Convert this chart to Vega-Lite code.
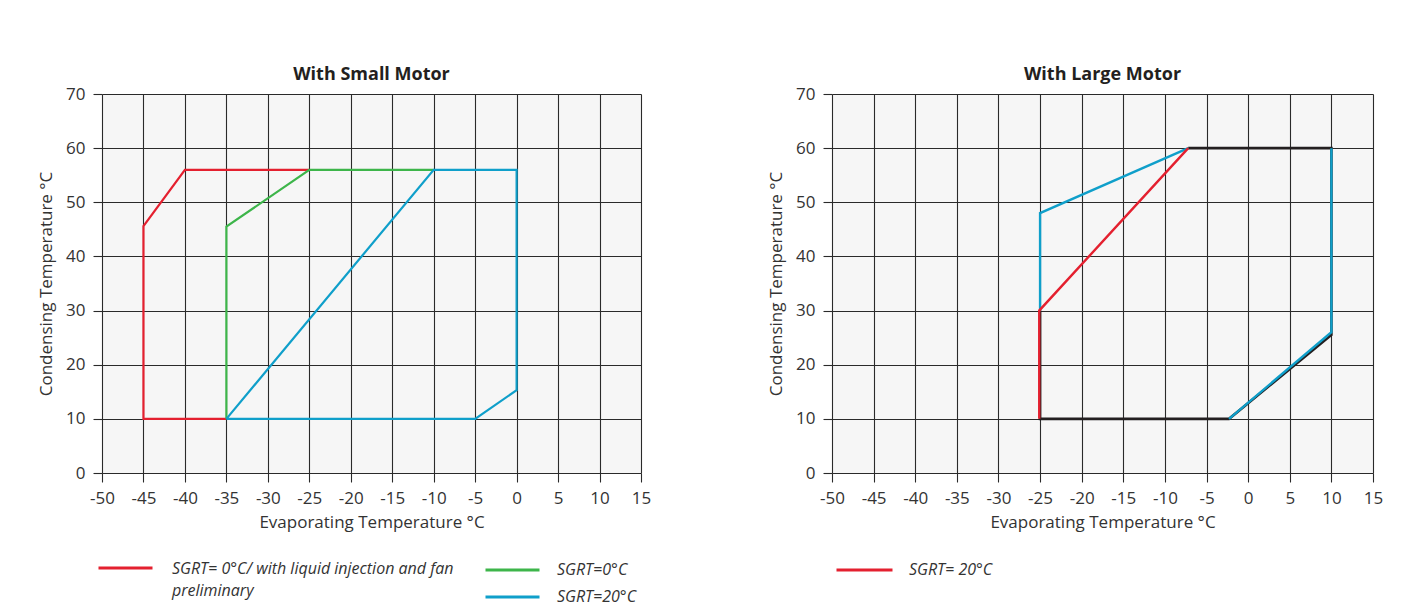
{
  "$schema": "https://vega.github.io/schema/vega-lite/v6.json",
  "background": "white",
  "padding": {"left": 37, "top": 66, "right": 10, "bottom": 4},
  "spacing": 116,
  "datasets": {
    "small": [
      {"group": "red", "series": "SGRT= 0°C/ with liquid injection and fan preliminary", "i": 1, "x": -35, "y": 10},
      {"group": "red", "series": "SGRT= 0°C/ with liquid injection and fan preliminary", "i": 2, "x": -45, "y": 10},
      {"group": "red", "series": "SGRT= 0°C/ with liquid injection and fan preliminary", "i": 3, "x": -45, "y": 45.6},
      {"group": "red", "series": "SGRT= 0°C/ with liquid injection and fan preliminary", "i": 4, "x": -40, "y": 56},
      {"group": "red", "series": "SGRT= 0°C/ with liquid injection and fan preliminary", "i": 5, "x": -25, "y": 56},
      {"group": "gb", "series": "SGRT=0°C", "i": 1, "x": -35, "y": 10},
      {"group": "gb", "series": "SGRT=0°C", "i": 2, "x": -35, "y": 45.5},
      {"group": "gb", "series": "SGRT=0°C", "i": 3, "x": -25, "y": 56},
      {"group": "gb", "series": "SGRT=0°C", "i": 4, "x": -10, "y": 56},
      {"group": "gb", "series": "SGRT=20°C", "i": 1, "x": -35, "y": 10},
      {"group": "gb", "series": "SGRT=20°C", "i": 2, "x": -10, "y": 56},
      {"group": "gb", "series": "SGRT=20°C", "i": 3, "x": 0, "y": 56},
      {"group": "gb", "series": "SGRT=20°C", "i": 4, "x": 0, "y": 15.3},
      {"group": "gb", "series": "SGRT=20°C", "i": 5, "x": -5, "y": 10},
      {"group": "gb", "series": "SGRT=20°C", "i": 6, "x": -35, "y": 10}
    ],
    "large": [
      {"group": "black", "seg": "k", "i": 1, "x": -25, "y": 30},
      {"group": "black", "seg": "k", "i": 2, "x": -25, "y": 10},
      {"group": "black", "seg": "k", "i": 3, "x": -2.3, "y": 10},
      {"group": "black", "seg": "k", "i": 4, "x": 10, "y": 25.5},
      {"group": "black", "seg": "k", "i": 5, "x": 10, "y": 60},
      {"group": "black", "seg": "k", "i": 6, "x": -7.2, "y": 60},
      {"group": "blue", "seg": "a", "i": 1, "x": -25, "y": 30},
      {"group": "blue", "seg": "a", "i": 2, "x": -25, "y": 48},
      {"group": "blue", "seg": "a", "i": 3, "x": -7.2, "y": 60},
      {"group": "blue", "seg": "b", "i": 1, "x": 10, "y": 60},
      {"group": "blue", "seg": "b", "i": 2, "x": 10, "y": 26},
      {"group": "blue", "seg": "b", "i": 3, "x": -2.3, "y": 10},
      {"group": "red", "series": "SGRT= 20°C", "seg": "r", "i": 1, "x": -25.1, "y": 10},
      {"group": "red", "series": "SGRT= 20°C", "seg": "r", "i": 2, "x": -25.1, "y": 30},
      {"group": "red", "series": "SGRT= 20°C", "seg": "r", "i": 3, "x": -7.2, "y": 60}
    ]
  },
  "hconcat": [
    {
      "title": {"text": "With Small Motor"},
      "width": 539,
      "height": 379,
      "encoding": {
        "x": {"field": "x", "type": "quantitative", "scale": {"domain": [-50, 15], "nice": false, "zero": false},
              "axis": {"values": [-50, -45, -40, -35, -30, -25, -20, -15, -10, -5, 0, 5, 10, 15], "labelExpr": "toString(datum.value)", "title": "Evaporating Temperature °C"}},
        "y": {"field": "y", "type": "quantitative", "scale": {"domain": [0, 70], "nice": false},
              "axis": {"values": [0, 10, 20, 30, 40, 50, 60, 70], "title": "Condensing Temperature °C"}},
        "order": {"field": "i", "type": "quantitative"}
      },
      "layer": [
        {
          "data": {"name": "small"},
          "transform": [{"filter": "datum.group == 'red'"}],
          "mark": {"type": "line", "strokeWidth": 2.2},
          "encoding": {
            "color": {"field": "series", "type": "nominal",
              "scale": {"domain": ["SGRT= 0°C/ with liquid injection and fan preliminary"], "range": ["#e4202f"]},
              "legend": {"title": null, "orient": "none", "legendX": -5, "legendY": 466, "symbolType": "stroke", "symbolSize": 2916, "symbolStrokeWidth": 3, "clipHeight": 16, "labelOffset": 18, "padding": 0,
                "labelExpr": "[slice(datum.label, 0, 41), 'preliminary']",
                "encode": {"labels": {"update": {"lineHeight": {"value": 22}, "dy": {"value": 0.5}}}}}}
          }
        },
        {
          "data": {"name": "small"},
          "transform": [{"filter": "datum.group == 'gb'"}],
          "mark": {"type": "line", "strokeWidth": 2.2},
          "encoding": {
            "color": {"field": "series", "type": "nominal",
              "scale": {"domain": ["SGRT=0°C", "SGRT=20°C"], "range": ["#3db54a", "#0f9fca"]},
              "legend": {"title": null, "orient": "none", "legendX": 382, "legendY": 468, "symbolType": "stroke", "symbolSize": 2916, "symbolStrokeWidth": 3, "clipHeight": 16, "labelOffset": 16, "rowPadding": 11, "padding": 0}}
          }
        }
      ],
      "resolve": {"scale": {"color": "independent"}, "legend": {"color": "independent"}}
    },
    {
      "title": {"text": "With Large Motor"},
      "width": 541,
      "height": 379,
      "data": {"name": "large"},
      "encoding": {
        "x": {"field": "x", "type": "quantitative", "scale": {"domain": [-50, 15], "nice": false, "zero": false},
              "axis": {"values": [-50, -45, -40, -35, -30, -25, -20, -15, -10, -5, 0, 5, 10, 15], "labelExpr": "toString(datum.value)", "title": "Evaporating Temperature °C"}},
        "y": {"field": "y", "type": "quantitative", "scale": {"domain": [0, 70], "nice": false},
              "axis": {"values": [0, 10, 20, 30, 40, 50, 60, 70], "title": "Condensing Temperature °C"}},
        "order": {"field": "i", "type": "quantitative"}
      },
      "layer": [
        {
          "transform": [{"filter": "datum.group == 'black'"}],
          "mark": {"type": "line", "strokeWidth": 2.6, "color": "#231f20"},
          "encoding": {"detail": {"field": "seg", "type": "nominal"}}
        },
        {
          "transform": [{"filter": "datum.group == 'blue'"}],
          "mark": {"type": "line", "strokeWidth": 2.4, "color": "#0f9fca"},
          "encoding": {"detail": {"field": "seg", "type": "nominal"}}
        },
        {
          "transform": [{"filter": "datum.group == 'red'"}],
          "mark": {"type": "line", "strokeWidth": 2.4},
          "encoding": {
            "color": {"field": "series", "type": "nominal",
              "scale": {"domain": ["SGRT= 20°C"], "range": ["#e4202f"]},
              "legend": {"title": null, "orient": "none", "legendX": 3, "legendY": 468, "symbolType": "stroke", "symbolSize": 3136, "symbolStrokeWidth": 3, "clipHeight": 16, "labelOffset": 15, "padding": 0}}
          }
        }
      ]
    }
  ],
  "resolve": {"scale": {"color": "independent"}, "legend": {"color": "independent"}},
  "config": {
    "font": "Open Sans",
    "view": {"stroke": null, "fill": "#f6f6f6"},
    "axis": {
      "domain": false,
      "grid": true,
      "gridColor": "#2a2a2a",
      "gridOpacity": 1,
      "gridWidth": 1.1,
      "tickColor": "#2a2a2a",
      "tickSize": 9,
      "tickWidth": 1.1,
      "labelFlush": false,
      "labelFontSize": 17,
      "labelColor": "#333333",
      "labelPadding": 8,
      "titleFontSize": 17,
      "titleFontWeight": "normal",
      "titleColor": "#333333"
    },
    "axisY": {"titlePadding": 10},
    "axisX": {"titlePadding": 8},
    "title": {"fontSize": 18, "fontWeight": "bold", "color": "#231f20", "offset": 1},
    "legend": {"labelFontSize": 16, "labelFontStyle": "italic", "labelColor": "#333333", "labelLimit": 0}
  }
}
